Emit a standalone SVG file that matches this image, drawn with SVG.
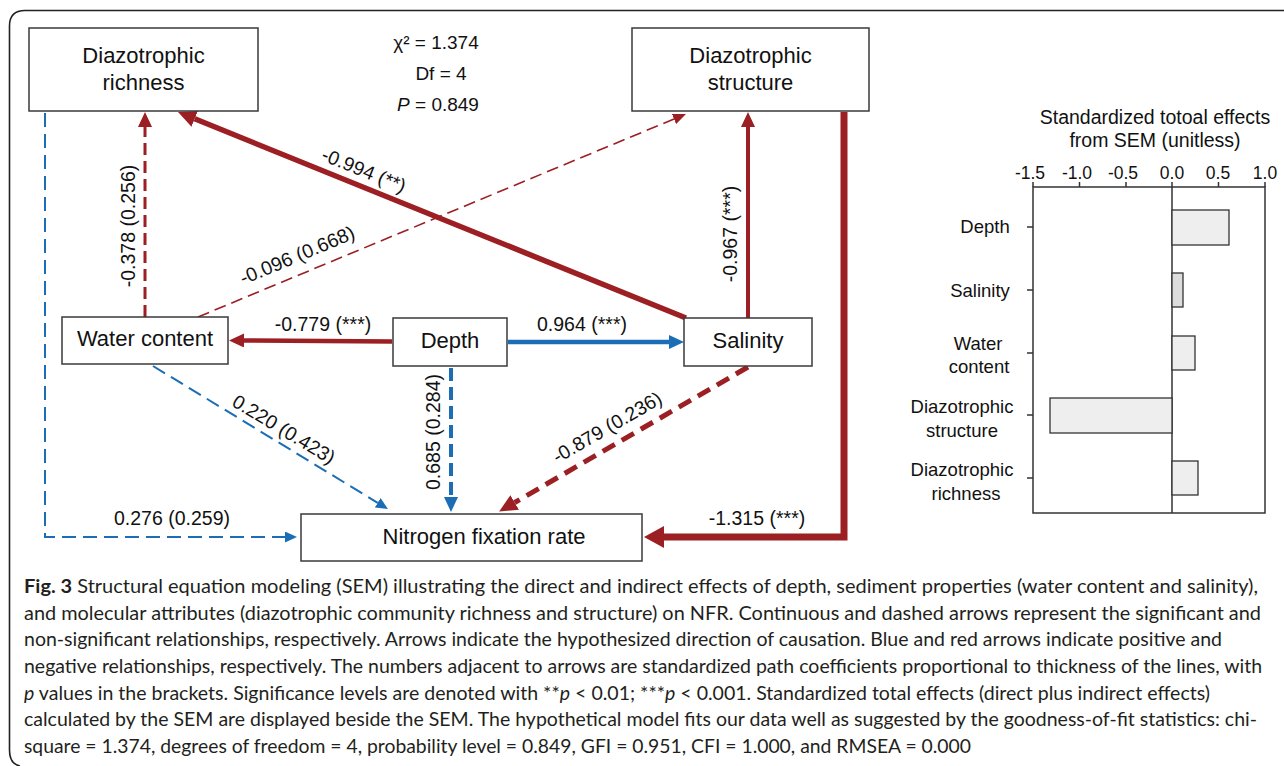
<svg xmlns="http://www.w3.org/2000/svg" width="1284" height="766" viewBox="0 0 1284 766">
<style>
.box{fill:#fff;stroke:#3a3a3a;stroke-width:1.5}
.nt{font-family:"Liberation Sans",Arial,sans-serif;font-size:22px;fill:#111;text-anchor:middle}
.lb{font-family:"Liberation Sans",Arial,sans-serif;font-size:19.5px;fill:#111;text-anchor:middle}
.st{font-family:"Liberation Sans",Arial,sans-serif;font-size:19px;fill:#111;text-anchor:middle}
.red{stroke:#9b1f23;fill:none}
.blue{stroke:#1b6db5;fill:none}
.ch{font-family:"Liberation Sans",Arial,sans-serif;font-size:18.5px;fill:#111;text-anchor:middle}
.ct{font-family:"Liberation Sans",Arial,sans-serif;font-size:19.5px;fill:#111;text-anchor:middle}
.tk{font-family:"Liberation Sans",Arial,sans-serif;font-size:17.5px;fill:#111;text-anchor:middle}
.ax{stroke:#333;stroke-width:1.5;fill:none}
.bar{fill:#eeeeee;stroke:#333;stroke-width:1.3}
.cap{font-family:Lato,"Open Sans",sans-serif;font-size:19px;fill:#231f20}
</style>
<defs>
<marker id="hrs" markerUnits="userSpaceOnUse" markerWidth="13" markerHeight="11" refX="0" refY="5.5" orient="auto"><path d="M0,0 L13,5.5 L0,11 z" fill="#9b1f23"/></marker>
<marker id="hbs" markerUnits="userSpaceOnUse" markerWidth="12" markerHeight="11" refX="0" refY="5.5" orient="auto"><path d="M0,0 L12,5.5 L0,11 z" fill="#1b6db5"/></marker>
<marker id="hrm" markerUnits="userSpaceOnUse" markerWidth="15" markerHeight="14" refX="0" refY="7" orient="auto"><path d="M0,0 L15,7 L0,14 z" fill="#9b1f23"/></marker>
<marker id="hbm" markerUnits="userSpaceOnUse" markerWidth="15" markerHeight="14" refX="0" refY="7" orient="auto"><path d="M0,0 L15,7 L0,14 z" fill="#1b6db5"/></marker>
<marker id="hrb" markerUnits="userSpaceOnUse" markerWidth="18" markerHeight="17" refX="0" refY="8.5" orient="auto"><path d="M0,0 L18,8.5 L0,17 z" fill="#9b1f23"/></marker>
<marker id="hrl" markerUnits="userSpaceOnUse" markerWidth="20" markerHeight="22" refX="0" refY="11" orient="auto"><path d="M0,0 L20,11 L0,22 z" fill="#9b1f23"/></marker>
</defs>
<rect width="1284" height="766" fill="#fff"/>
<path d="M1284,10.5 H25 Q9.5,10.5 9.5,26 V750 Q9.5,764 20,766" fill="none" stroke="#222" stroke-width="1.6"/>

<g id="connectors">
<path class="red" d="M392,341.5 L244,340.5" stroke-width="4.5" marker-end="url(#hrm)"/>
<path class="blue" d="M508,342 L669,342" stroke-width="4.5" marker-end="url(#hbm)"/>
<path class="blue" d="M451,368 L451,497" stroke-width="4" stroke-dasharray="13 6" marker-end="url(#hbm)"/>
<path class="red" d="M145,317 L145,127" stroke-width="3" stroke-dasharray="12 6" marker-end="url(#hrm)"/>
<path class="red" d="M198,317 L674,119" stroke-width="1.6" stroke-dasharray="12 6" marker-end="url(#hrs)"/>
<path class="blue" d="M153,366 L377.7,502.8" stroke-width="2" stroke-dasharray="14 7" marker-end="url(#hbs)"/>
<path class="blue" d="M45,113 V537 H285" stroke-width="2" stroke-dasharray="14 7" marker-end="url(#hbs)"/>
<path class="red" d="M686,318 L194.7,118.8" stroke-width="5.5" marker-end="url(#hrb)"/>
<path class="red" d="M748,318 L748,127" stroke-width="4" marker-end="url(#hrm)"/>
<path class="red" d="M748,367 L514.7,502.5" stroke-width="5" stroke-dasharray="14 8" marker-end="url(#hrb)"/>
<path class="red" d="M844,112 V537 H664" stroke-width="7" stroke-linejoin="miter" marker-end="url(#hrl)"/>
</g>

<g id="edge-labels">
<text class="lb" transform="translate(364,170) rotate(22)" y="7">-0.994 (**)</text>
<text class="lb" transform="translate(297,255) rotate(-22.7)" y="7">-0.096 (0.668)</text>
<text class="lb" transform="translate(128,226) rotate(-90)" y="7">-0.378 (0.256)</text>
<text class="lb" transform="translate(730,234) rotate(-90)" y="7">-0.967 (***)</text>
<text class="lb" x="323" y="331">-0.779 (***)</text>
<text class="lb" x="582" y="331">0.964 (***)</text>
<text class="lb" transform="translate(284,429) rotate(31)" y="7">0.220 (0.423)</text>
<text class="lb" transform="translate(433,432) rotate(-90)" y="7">0.685 (0.284)</text>
<text class="lb" transform="translate(607,427) rotate(-30)" y="7">-0.879 (0.236)</text>
<text class="lb" x="172" y="525">0.276 (0.259)</text>
<text class="lb" x="757" y="525">-1.315 (***)</text>
</g>

<g id="fit-stats">
<text class="st" x="436" y="49">χ² = 1.374</text>
<text class="st" x="441" y="80">Df = 4</text>
<text class="st" x="438" y="111"><tspan font-style="italic">P</tspan> = 0.849</text>
</g>

<g id="node-richness">
<rect class="box" x="29" y="28" width="229" height="83"/>
<text class="nt" x="143.5" y="63">Diazotrophic</text>
<text class="nt" x="143.5" y="90">richness</text>
</g>
<g id="node-structure">
<rect class="box" x="632" y="28" width="237" height="83"/>
<text class="nt" x="750.5" y="63">Diazotrophic</text>
<text class="nt" x="750.5" y="90">structure</text>
</g>
<g id="node-water">
<rect class="box" x="62" y="317" width="166" height="47"/>
<text class="nt" x="145" y="346">Water content</text>
</g>
<g id="node-depth">
<rect class="box" x="393" y="318" width="114" height="48"/>
<text class="nt" x="450" y="348">Depth</text>
</g>
<g id="node-salinity">
<rect class="box" x="684" y="318" width="128" height="48"/>
<text class="nt" x="748" y="348">Salinity</text>
</g>
<g id="node-nfr">
<rect class="box" x="301" y="514" width="341" height="47"/>
<text class="nt" x="484" y="544">Nitrogen fixation rate</text>
</g>

<g id="chart">
<text class="ct" x="1155" y="124">Standardized totoal effects</text>
<text class="ct" x="1155" y="147">from SEM (unitless)</text>
<text class="tk" x="1030" y="179">-1.5</text>
<text class="tk" x="1077" y="179">-1.0</text>
<text class="tk" x="1123" y="179">-0.5</text>
<text class="tk" x="1172" y="179">0.0</text>
<text class="tk" x="1218" y="179">0.5</text>
<text class="tk" x="1265" y="179">1.0</text>
<rect class="ax" x="1033" y="187" width="232" height="326"/>
<path class="ax" d="M1033,182V187 M1079.5,182V187 M1126,182V187 M1172,182V187 M1218.5,182V187 M1265,182V187"/>
<path class="ax" d="M1027,227H1033 M1027,290H1033 M1027,353H1033 M1027,415H1033 M1027,478H1033"/>
<line class="ax" x1="1172" y1="187" x2="1172" y2="513"/>
<rect class="bar" x="1172" y="210" width="57" height="35"/>
<rect class="bar" x="1172" y="273" width="11" height="34" style="fill:#dcdcdc"/>
<rect class="bar" x="1172" y="336" width="23" height="34"/>
<rect class="bar" x="1050" y="398" width="122" height="35"/>
<rect class="bar" x="1172" y="461" width="26" height="34"/>
<text class="ch" x="985" y="233">Depth</text>
<text class="ch" x="980" y="297">Salinity</text>
<text class="ch" x="978" y="350">Water</text>
<text class="ch" x="979" y="373">content</text>
<text class="ch" x="962" y="413">Diazotrophic</text>
<text class="ch" x="962" y="437">structure</text>
<text class="ch" x="962" y="476">Diazotrophic</text>
<text class="ch" x="966" y="500">richness</text>
</g>

<g id="caption">
<text class="cap" x="24" y="593" textLength="1234" lengthAdjust="spacingAndGlyphs"><tspan font-weight="bold">Fig. 3</tspan> Structural equation modeling (SEM) illustrating the direct and indirect effects of depth, sediment properties (water content and salinity),</text>
<text class="cap" x="24" y="620" textLength="1237" lengthAdjust="spacingAndGlyphs">and molecular attributes (diazotrophic community richness and structure) on NFR. Continuous and dashed arrows represent the significant and</text>
<text class="cap" x="24" y="646" textLength="1198" lengthAdjust="spacingAndGlyphs">non-significant relationships, respectively. Arrows indicate the hypothesized direction of causation. Blue and red arrows indicate positive and</text>
<text class="cap" x="24" y="673" textLength="1238" lengthAdjust="spacingAndGlyphs">negative relationships, respectively. The numbers adjacent to arrows are standardized path coefficients proportional to thickness of the lines, with</text>
<text class="cap" x="24" y="700" textLength="1186" lengthAdjust="spacingAndGlyphs"><tspan font-style="italic">p</tspan> values in the brackets. Significance levels are denoted with **<tspan font-style="italic">p</tspan> &lt; 0.01; ***<tspan font-style="italic">p</tspan> &lt; 0.001. Standardized total effects (direct plus indirect effects)</text>
<text class="cap" x="24" y="726" textLength="1233" lengthAdjust="spacingAndGlyphs">calculated by the SEM are displayed beside the SEM. The hypothetical model fits our data well as suggested by the goodness-of-fit statistics: chi-</text>
<text class="cap" x="24" y="753" textLength="947" lengthAdjust="spacingAndGlyphs">square = 1.374, degrees of freedom = 4, probability level = 0.849, GFI = 0.951, CFI = 1.000, and RMSEA = 0.000</text>
</g>
</svg>
